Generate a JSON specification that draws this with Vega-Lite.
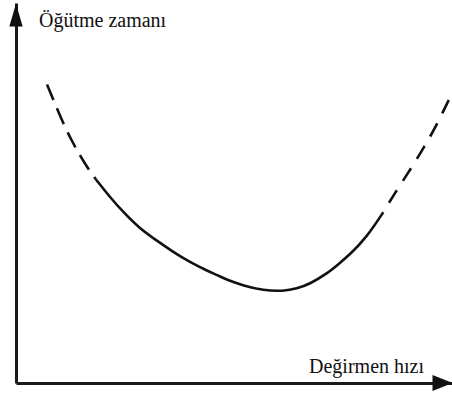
{
  "$schema": "https://vega.github.io/schema/vega-lite/v6.json",
  "width": 436,
  "height": 380,
  "autosize": {"type": "none"},
  "padding": {"left": 16, "top": 3, "right": 0, "bottom": 11},
  "background": "white",
  "config": {
    "view": {"stroke": null},
    "axis": {
      "domain": true,
      "domainColor": "#1a1a1a",
      "domainWidth": 3,
      "ticks": false,
      "labels": false,
      "grid": false,
      "title": null
    },
    "line": {"color": "#111111", "strokeWidth": 2.6, "strokeCap": "butt", "interpolate": "basis", "clip": false}
  },
  "datasets": {
    "lowSpeed": [
      {"speed": 31, "time": 298.5},
      {"speed": 38, "time": 281.5},
      {"speed": 46, "time": 262.5},
      {"speed": 55, "time": 243.5},
      {"speed": 64, "time": 227.5},
      {"speed": 72, "time": 214.5},
      {"speed": 80, "time": 203.5}
    ],
    "working": [
      {"speed": 80, "time": 203.5},
      {"speed": 94, "time": 185.8},
      {"speed": 107.3, "time": 170.8},
      {"speed": 124, "time": 154.2},
      {"speed": 140.7, "time": 142.5},
      {"speed": 157.3, "time": 130.8},
      {"speed": 174, "time": 120.8},
      {"speed": 190.7, "time": 112.5},
      {"speed": 202.3, "time": 107.5},
      {"speed": 210.7, "time": 103.2},
      {"speed": 227.3, "time": 97.5},
      {"speed": 247.3, "time": 92.5},
      {"speed": 267.3, "time": 91.8},
      {"speed": 280.7, "time": 94.2},
      {"speed": 294, "time": 99.2},
      {"speed": 310.7, "time": 109.2},
      {"speed": 322, "time": 118.5},
      {"speed": 334, "time": 128.5},
      {"speed": 350.7, "time": 145.8},
      {"speed": 367.3, "time": 170.8}
    ],
    "highSpeed": [
      {"speed": 367.3, "time": 170.8},
      {"speed": 378, "time": 188.5},
      {"speed": 393, "time": 211.5},
      {"speed": 408, "time": 235.5},
      {"speed": 421, "time": 258.5},
      {"speed": 433, "time": 283.5}
    ],
    "yLabel": [{"speed": 23, "time": 356.5, "label": "Öğütme zamanı"}],
    "xLabel": [{"speed": 408, "time": 10.5, "label": "Değirmen hızı"}],
    "arrowUp": [{"speed": 0, "time": 368}],
    "arrowRight": [{"speed": 426.5, "time": 0}]
  },
  "layer": [
    {
      "data": {"name": "lowSpeed"},
      "mark": {"type": "line", "strokeDash": [17, 9]},
      "encoding": {
        "x": {"field": "speed", "type": "quantitative", "scale": {"domain": [0, 436], "nice": false, "zero": false}},
        "y": {"field": "time", "type": "quantitative", "scale": {"domain": [0, 380], "nice": false, "zero": false}}
      }
    },
    {
      "data": {"name": "working"},
      "mark": {"type": "line"},
      "encoding": {
        "x": {"field": "speed", "type": "quantitative"},
        "y": {"field": "time", "type": "quantitative"}
      }
    },
    {
      "data": {"name": "highSpeed"},
      "mark": {"type": "line", "strokeDash": [15, 11], "strokeDashOffset": 15},
      "encoding": {
        "x": {"field": "speed", "type": "quantitative"},
        "y": {"field": "time", "type": "quantitative"}
      }
    },
    {
      "data": {"name": "arrowUp"},
      "mark": {"type": "point", "filled": true, "opacity": 1, "clip": false},
      "encoding": {
        "x": {"field": "speed", "type": "quantitative"},
        "y": {"field": "time", "type": "quantitative"},
        "shape": {"value": "M0,-1L0.58,1L-0.58,1Z"},
        "size": {"value": 529},
        "color": {"value": "#111111"}
      }
    },
    {
      "data": {"name": "arrowRight"},
      "mark": {"type": "point", "filled": true, "opacity": 1, "clip": false},
      "encoding": {
        "x": {"field": "speed", "type": "quantitative"},
        "y": {"field": "time", "type": "quantitative"},
        "shape": {"value": "M1,0L-1,-0.8L-1,0.8Z"},
        "size": {"value": 400},
        "color": {"value": "#111111"}
      }
    },
    {
      "data": {"name": "yLabel"},
      "mark": {"type": "text", "align": "left", "font": "Liberation Serif", "fontSize": 20, "color": "#111111", "baseline": "alphabetic", "clip": false},
      "encoding": {
        "x": {"field": "speed", "type": "quantitative"},
        "y": {"field": "time", "type": "quantitative"},
        "text": {"field": "label"}
      }
    },
    {
      "data": {"name": "xLabel"},
      "mark": {"type": "text", "align": "right", "font": "Liberation Serif", "fontSize": 20, "color": "#111111", "baseline": "alphabetic", "clip": false},
      "encoding": {
        "x": {"field": "speed", "type": "quantitative"},
        "y": {"field": "time", "type": "quantitative"},
        "text": {"field": "label"}
      }
    }
  ]
}
